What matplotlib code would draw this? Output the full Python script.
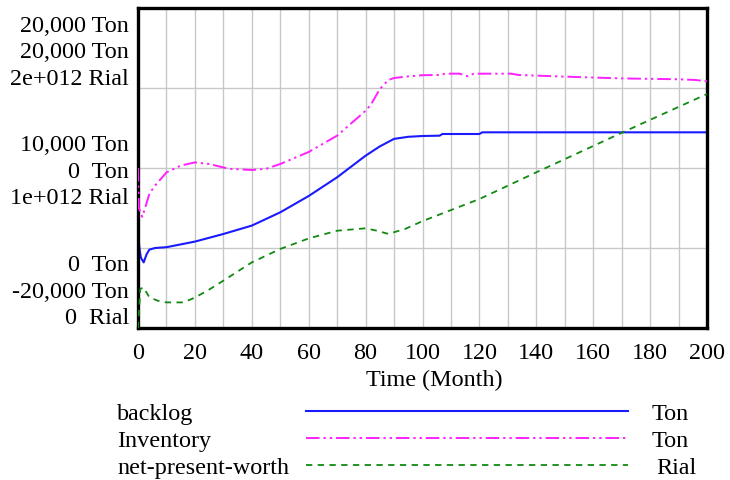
import matplotlib
matplotlib.use("Agg")
import matplotlib.pyplot as plt
from matplotlib.lines import Line2D
import numpy as np

plt.rcParams['font.family'] = ['Liberation Serif', 'DejaVu Serif']

# ---- simulation output (Time in months) ----
backlog_t = [0, 0.5, 1, 2, 3, 4, 6, 10, 20, 30, 40, 50, 60, 70, 80, 85, 90, 95,
             100, 106, 107, 120, 121, 200]
backlog_v = [6000, 5000, 4400, 4100, 4600, 4900, 5000, 5050, 5400, 5875, 6400,
             7230, 8250, 9420, 10770, 11350, 11820, 11950, 12000, 12020, 12125,
             12125, 12230, 12230]

inventory_t = [0, 0.3, 1.5, 2.5, 4, 6, 10, 15, 20, 25, 32, 40, 45, 50, 60, 70,
               80, 82, 85, 88, 90, 95, 100, 106, 108, 113, 116, 118, 131, 134,
               150, 170, 190, 196, 200]
inventory_v = [0, -5000, -6100, -5000, -3200, -2200, -550, 300, 700, 500, -100,
               -250, -100, 500, 2000, 4050, 7150, 8000, 9875, 11000, 11250,
               11450, 11600, 11625, 11790, 11790, 11460, 11790, 11790, 11625,
               11420, 11200, 11090, 11000, 10840]

npw_t = [0, 0.8, 1.9, 4, 7, 10, 16, 20, 25, 30, 40, 50, 60, 70, 80, 84, 88, 94,
         100, 120, 140, 170, 200]
npw_v = [0, 0.244e12, 0.254e12, 0.192e12, 0.17e12, 0.16e12, 0.16e12, 0.19e12,
         0.24e12, 0.296e12, 0.41e12, 0.494e12, 0.56e12, 0.608e12, 0.623e12,
         0.608e12, 0.588e12, 0.62e12, 0.668e12, 0.806e12, 0.973e12, 1.22e12,
         1.4625e12]

x_ticks = [0, 20, 40, 60, 80, 100, 120, 140, 160, 180, 200]

# per-variable vertical scales
backlog_range = (0, 20000)
inventory_range = (-20000, 20000)
npw_range = (0, 2e12)

# axis labels: (top, middle, bottom) groups, each three lines
ylabel_groups = [
    ["20,000 Ton", "20,000 Ton", "2e+012 Rial"],
    ["10,000 Ton", "0  Ton", "1e+012 Rial"],
    ["0  Ton", "-20,000 Ton", "0  Rial"],
]

legend_names = ["backlog", "Inventory", "net-present-worth"]
legend_units = ["Ton", "Ton", "Rial"]

W, H = 730, 481
FS = 17.4
fig = plt.figure(figsize=(W / 100, H / 100), dpi=100)

L, R, T, B = 138, 707, 9, 329
ax = fig.add_axes([L / W, (H - B) / H, (R - L) / W, (B - T) / H])
ax2 = ax.twinx()
ax3 = ax.twinx()

blue = "#1a1aff"
magenta = "#ff20ff"
green = "#108a10"

inv_dash = (7, 2, 1.2, 2, 1.2, 2)
npw_dash = (3.5, 3)

ax.plot(backlog_t, backlog_v, color=blue, lw=1.5, zorder=5)
ax2.plot(inventory_t, inventory_v, color=magenta, lw=1.4,
         linestyle=(0, inv_dash), zorder=5)
ax3.plot(npw_t, npw_v, color=green, lw=1.3, linestyle=(0, npw_dash), zorder=5)

ax.set_ylim(*backlog_range)
ax2.set_ylim(*inventory_range)
ax3.set_ylim(*npw_range)
ax.set_xlim(0, 200)

# grid
for xv in np.arange(10, 200, 10):
    ax.axvline(xv, color="#c8c8c8", lw=1.0, zorder=0)
for frac in (0.25, 0.5, 0.75):
    ax.axhline(backlog_range[0] + frac * (backlog_range[1] - backlog_range[0]),
               color="#c8c8c8", lw=1.0, zorder=0)

for a in (ax, ax2, ax3):
    a.set_yticks([])
    for s in a.spines.values():
        s.set_visible(False)
for s in ax.spines.values():
    s.set_visible(True)
    s.set_linewidth(2.4)
    s.set_color("black")
    s.set_zorder(10)

ax.set_xticks(x_ticks)
ax.set_xticklabels([str(v) for v in x_ticks], fontsize=FS)
ax.tick_params(axis="x", length=0, pad=10)


def fy(ypix):
    return (H - ypix) / H


# y labels (baselines in pixel rows)
group_baselines = [
    [32, 58, 85],
    [151, 178, 204],
    [271, 298, 324],
]
for labels, bases in zip(ylabel_groups, group_baselines):
    for lab, b in zip(labels, bases):
        fig.text(129 / W, fy(b), lab, ha="right", va="baseline", fontsize=FS)

fig.text(434 / W, fy(386), "Time (Month)", ha="center", va="baseline",
         fontsize=FS)

# legend
leg_y = [411.7, 439, 465.7]
styles = [dict(color=blue, lw=1.5, linestyle="-"),
          dict(color=magenta, lw=1.4, linestyle=(0, inv_dash)),
          dict(color=green, lw=1.3, linestyle=(0, npw_dash))]
unit_x = [652, 652, 656]
for name, unit, y, st, ux in zip(legend_names, legend_units, leg_y, styles, unit_x):
    fig.add_artist(Line2D([306 / W, 628 / W], [fy(y), fy(y)],
                          transform=fig.transFigure, **st))
    fig.text(117 / W, fy(y + 8), name, ha="left", va="baseline", fontsize=FS)
    fig.text(ux / W, fy(y + 8), unit, ha="left", va="baseline", fontsize=FS)

fig.savefig("out.png", dpi=100)
